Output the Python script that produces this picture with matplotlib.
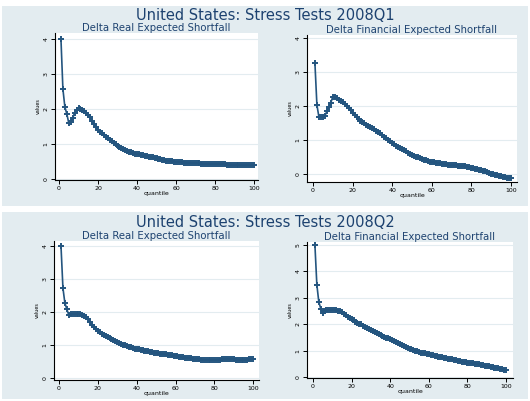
import matplotlib
matplotlib.use("Agg")
import matplotlib.pyplot as plt
from matplotlib.patches import Rectangle

quantile = list(range(1, 101))

real_q1 = [4.00, 2.57, 2.06, 1.86, 1.60, 1.63, 1.74, 1.88, 1.98, 2.03,
           2.00, 1.96, 1.93, 1.89, 1.84, 1.76, 1.66, 1.56, 1.48, 1.41,
           1.35, 1.30, 1.25, 1.21, 1.17, 1.12, 1.08, 1.04, 0.99, 0.95,
           0.92, 0.89, 0.86, 0.83, 0.80, 0.78, 0.76, 0.74, 0.72, 0.71,
           0.70, 0.69, 0.68, 0.67, 0.66, 0.64, 0.63, 0.62, 0.61, 0.60,
           0.58, 0.56, 0.55, 0.53, 0.52, 0.51, 0.50, 0.50, 0.49, 0.49,
           0.48, 0.48, 0.48, 0.47, 0.47, 0.47, 0.47, 0.46, 0.46, 0.46,
           0.45, 0.45, 0.44, 0.44, 0.43, 0.43, 0.42, 0.42, 0.42, 0.42,
           0.42, 0.42, 0.42, 0.42, 0.42, 0.41, 0.41, 0.41, 0.40, 0.40,
           0.40, 0.39, 0.39, 0.39, 0.39, 0.39, 0.39, 0.39, 0.40, 0.40]

fin_q1 = [3.26, 2.03, 1.68, 1.68, 1.68, 1.70, 1.84, 1.97, 2.09, 2.27,
          2.27, 2.23, 2.19, 2.15, 2.12, 2.07, 2.00, 1.94, 1.87, 1.80,
          1.74, 1.68, 1.62, 1.57, 1.53, 1.49, 1.45, 1.42, 1.38, 1.35,
          1.31, 1.27, 1.23, 1.19, 1.15, 1.10, 1.05, 1.01, 0.96, 0.91,
          0.87, 0.83, 0.80, 0.76, 0.72, 0.69, 0.66, 0.62, 0.59, 0.56,
          0.53, 0.51, 0.49, 0.46, 0.44, 0.42, 0.40, 0.38, 0.36, 0.35,
          0.34, 0.33, 0.32, 0.31, 0.30, 0.29, 0.28, 0.27, 0.26, 0.26,
          0.25, 0.25, 0.24, 0.24, 0.24, 0.23, 0.22, 0.20, 0.19, 0.17,
          0.16, 0.15, 0.13, 0.12, 0.10, 0.08, 0.07, 0.05, 0.03, 0.01,
          -0.01, -0.03, -0.04, -0.06, -0.07, -0.09, -0.10, -0.11, -0.12, -0.12]

real_q2 = [4.00, 2.73, 2.27, 2.09, 1.91, 1.93, 1.94, 1.95, 1.95, 1.94,
           1.93, 1.91, 1.88, 1.85, 1.79, 1.69, 1.61, 1.55, 1.48, 1.42,
           1.38, 1.34, 1.30, 1.27, 1.24, 1.21, 1.18, 1.15, 1.12, 1.09,
           1.06, 1.04, 1.01, 0.99, 0.97, 0.95, 0.93, 0.91, 0.89, 0.88,
           0.87, 0.86, 0.85, 0.83, 0.82, 0.81, 0.80, 0.79, 0.77, 0.76,
           0.75, 0.74, 0.74, 0.73, 0.72, 0.71, 0.70, 0.69, 0.68, 0.67,
           0.66, 0.65, 0.64, 0.63, 0.62, 0.61, 0.60, 0.60, 0.59, 0.58,
           0.58, 0.57, 0.56, 0.56, 0.55, 0.55, 0.55, 0.55, 0.55, 0.55,
           0.55, 0.56, 0.56, 0.57, 0.57, 0.57, 0.57, 0.57, 0.57, 0.57,
           0.56, 0.56, 0.56, 0.56, 0.56, 0.56, 0.56, 0.57, 0.57, 0.58]

fin_q2 = [5.00, 3.50, 2.86, 2.60, 2.45, 2.49, 2.55, 2.56, 2.56, 2.56,
          2.55, 2.54, 2.52, 2.50, 2.46, 2.41, 2.35, 2.29, 2.24, 2.19,
          2.15, 2.11, 2.07, 2.03, 2.00, 1.96, 1.92, 1.88, 1.83, 1.79,
          1.75, 1.71, 1.67, 1.63, 1.59, 1.56, 1.53, 1.50, 1.47, 1.44,
          1.41, 1.38, 1.34, 1.31, 1.28, 1.24, 1.20, 1.16, 1.12, 1.09,
          1.06, 1.03, 1.01, 0.98, 0.96, 0.94, 0.92, 0.91, 0.89, 0.88,
          0.86, 0.84, 0.82, 0.81, 0.79, 0.77, 0.76, 0.74, 0.72, 0.71,
          0.69, 0.68, 0.66, 0.65, 0.63, 0.62, 0.60, 0.59, 0.57, 0.56,
          0.55, 0.54, 0.53, 0.51, 0.50, 0.49, 0.48, 0.47, 0.45, 0.44,
          0.42, 0.40, 0.38, 0.37, 0.35, 0.34, 0.32, 0.31, 0.30, 0.29]

ticks_4 = [0, 1, 2, 3, 4]
ticks_5 = [0, 1, 2, 3, 4, 5]
xticks = [0, 20, 40, 60, 80, 100]

main_titles = ["United States: Stress Tests 2008Q1", "United States: Stress Tests 2008Q2"]
sub_titles = ["Delta Real Expected Shortfall", "Delta Financial Expected Shortfall"]

W, H = 530, 401
bg = "#e3ecf0"
navy = "#24557f"
title_col = "#1d4270"

fig = plt.figure(figsize=(W / 100, H / 100), dpi=100)
fig.patch.set_facecolor("white")


def px_rect(l, t, r, b):
    return [l / W, 1 - b / H, (r - l) / W, (b - t) / H]


# panel backgrounds (behind the axes)
for t, b in [(6, 206), (212, 399)]:
    x0, y0, w, h = px_rect(2, t, 528, b)
    fig.patches.append(Rectangle((x0, y0), w, h, transform=fig.transFigure,
                                 facecolor=bg, edgecolor="none", zorder=-10))

fig.text(0.5, 1 - 15 / H, main_titles[0], ha="center", va="center",
         fontsize=10.5, color=title_col)
fig.text(0.5, 1 - 222 / H, main_titles[1], ha="center", va="center",
         fontsize=10.5, color=title_col)

panels = [
    (px_rect(55, 33, 258, 180), real_q1, sub_titles[0], (-2.05, 102), (-0.03, 4.17), ticks_4),
    (px_rect(307, 35, 517, 182), fin_q1, sub_titles[1], (-3, 103), (-0.24, 4.09), ticks_4),
    (px_rect(54, 241, 259, 380), real_q2, sub_titles[0], (-2.6, 103), (-0.06, 4.15), ticks_4),
    (px_rect(307, 242, 513, 378), fin_q2, sub_titles[1], (-3.1, 103.6), (-0.02, 5.11), ticks_5),
]

for rect, vals, ttl, xl, yl, yt in panels:
    ax = fig.add_axes(rect)
    ax.set_facecolor("white")
    ax.plot(quantile, vals, color=navy, lw=1.2, marker="+", ms=4.5, mew=1.4)
    ax.set_xlim(*xl)
    ax.set_ylim(*yl)
    ax.set_xticks(xticks)
    ax.set_yticks(yt)
    ax.grid(axis="y", color="#e3ecf0", lw=0.8)
    ax.set_axisbelow(True)
    for s in ["top", "right"]:
        ax.spines[s].set_visible(False)
    for s in ["left", "bottom"]:
        ax.spines[s].set_color("black")
        ax.spines[s].set_linewidth(0.8)
    ax.tick_params(axis="both", length=3, width=0.7, pad=1.5, labelsize=4.5)
    for lab in ax.get_yticklabels():
        lab.set_rotation(90)
        lab.set_va("center")
    ax.set_xlabel("quantile", fontsize=4.5, labelpad=-0.5)
    ax.set_ylabel("values", fontsize=3.5, labelpad=2)
    ax.set_title(ttl, fontsize=7.3, color=title_col, pad=0.5)

fig.savefig("out.png", dpi=100)
